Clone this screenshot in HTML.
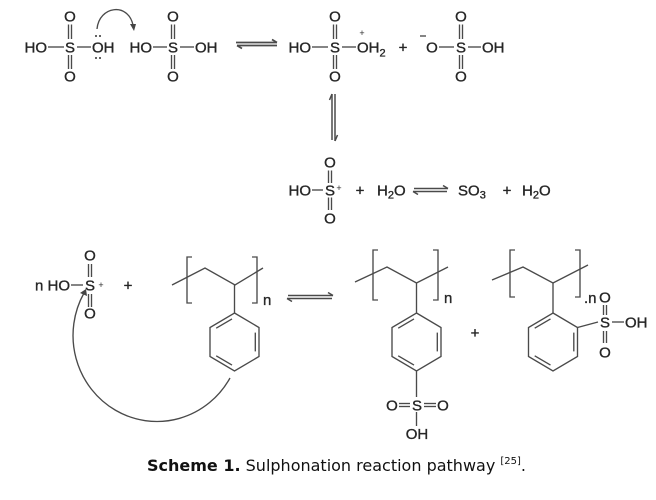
<!DOCTYPE html>
<html><head><meta charset="utf-8"><style>
html,body{margin:0;padding:0;background:#fff;}
svg{display:block;}
.t{font-family:"Liberation Sans",Arial,sans-serif;font-size:15px;fill:#262626;stroke:#262626;stroke-width:0.35;}
.s{font-family:"Liberation Sans",Arial,sans-serif;font-size:9px;fill:#2a2a2a;}
.b{font-family:"Liberation Sans",Arial,sans-serif;font-size:11px;fill:#262626;}
line,path,polyline{stroke:#4a4a4a;stroke-width:1.35;fill:none;}
.cap{font-family:"DejaVu Sans","Liberation Sans",sans-serif;font-size:16px;fill:#111;}
</style></head><body>
<svg width="656" height="500" viewBox="0 0 656 500" xmlns="http://www.w3.org/2000/svg">
<rect width="656" height="500" fill="#fff"/>

<!-- Molecule 1 -->
<text class="t" x="47" y="52.5" text-anchor="end">HO</text>
<line x1="48" y1="47" x2="64" y2="47"/>
<text class="t" x="70" y="52.5" text-anchor="middle">S</text>
<line x1="77" y1="47" x2="91" y2="47"/>
<text class="t" x="92" y="52.5">OH</text>
<text class="t" x="70" y="21.5" text-anchor="middle">O</text>
<text class="t" x="70" y="81.5" text-anchor="middle">O</text>
<line x1="68.5" y1="24.5" x2="68.5" y2="39"/><line x1="71.5" y1="24.5" x2="71.5" y2="39"/>
<line x1="68.5" y1="55" x2="68.5" y2="69"/><line x1="71.5" y1="55" x2="71.5" y2="69"/>
<circle cx="96" cy="36" r="1" fill="#333"/><circle cx="100" cy="36" r="1" fill="#333"/>
<circle cx="96" cy="58" r="1" fill="#333"/><circle cx="100" cy="58" r="1" fill="#333"/>
<path d="M97,29 C99,6 128,2 133,25"/>
<polygon points="130,24 136,24 134,31" fill="#444"/>

<!-- Molecule 2 -->
<text class="t" x="152" y="52.5" text-anchor="end">HO</text>
<line x1="153" y1="47" x2="167" y2="47"/>
<text class="t" x="173" y="52.5" text-anchor="middle">S</text>
<line x1="180" y1="47" x2="194" y2="47"/>
<text class="t" x="195" y="52.5">OH</text>
<text class="t" x="173" y="21.5" text-anchor="middle">O</text>
<text class="t" x="173" y="81.5" text-anchor="middle">O</text>
<line x1="171.5" y1="24.5" x2="171.5" y2="39"/><line x1="174.5" y1="24.5" x2="174.5" y2="39"/>
<line x1="171.5" y1="55" x2="171.5" y2="69"/><line x1="174.5" y1="55" x2="174.5" y2="69"/>

<!-- equilibrium top -->
<line x1="236" y1="42.5" x2="277" y2="42.5" style="stroke-width:1.7"/>
<line x1="272" y1="39.5" x2="277" y2="42.5" style="stroke-width:1.7"/>
<line x1="237" y1="45.5" x2="277" y2="45.5" style="stroke-width:1.7"/>
<line x1="237" y1="45.5" x2="242" y2="48.5" style="stroke-width:1.7"/>

<!-- Molecule 3 -->
<text class="t" x="311" y="52.5" text-anchor="end">HO</text>
<line x1="312" y1="47" x2="328" y2="47"/>
<text class="t" x="335" y="52.5" text-anchor="middle">S</text>
<line x1="342" y1="47" x2="356" y2="47"/>
<text class="t" x="357" y="52.5">OH<tspan class="b" dy="4">2</tspan></text>
<text class="s" x="362" y="36" text-anchor="middle">+</text>
<text class="t" x="335" y="21.5" text-anchor="middle">O</text>
<text class="t" x="335" y="81.5" text-anchor="middle">O</text>
<line x1="333.5" y1="24.5" x2="333.5" y2="39"/><line x1="336.5" y1="24.5" x2="336.5" y2="39"/>
<line x1="333.5" y1="55" x2="333.5" y2="69"/><line x1="336.5" y1="55" x2="336.5" y2="69"/>

<text class="t" x="403" y="52.5" text-anchor="middle">+</text>

<!-- Molecule 4 -->
<line x1="420" y1="36" x2="426" y2="36"/>
<text class="t" x="432" y="52.5" text-anchor="middle">O</text>
<line x1="439" y1="47" x2="454" y2="47"/>
<text class="t" x="461" y="52.5" text-anchor="middle">S</text>
<line x1="468" y1="47" x2="481" y2="47"/>
<text class="t" x="482" y="52.5">OH</text>
<text class="t" x="461" y="21.5" text-anchor="middle">O</text>
<text class="t" x="461" y="81.5" text-anchor="middle">O</text>
<line x1="459.5" y1="24.5" x2="459.5" y2="39"/><line x1="462.5" y1="24.5" x2="462.5" y2="39"/>
<line x1="459.5" y1="55" x2="459.5" y2="69"/><line x1="462.5" y1="55" x2="462.5" y2="69"/>

<!-- vertical equilibrium -->
<line x1="332" y1="94" x2="332" y2="140" style="stroke-width:1.5"/>
<line x1="332" y1="94" x2="329.5" y2="100" style="stroke-width:1.5"/>
<line x1="335" y1="94" x2="335" y2="141" style="stroke-width:1.5"/>
<line x1="335" y1="141" x2="337.5" y2="135" style="stroke-width:1.5"/>

<!-- Row 2 -->
<text class="t" x="311" y="195.5" text-anchor="end">HO</text>
<line x1="312" y1="190" x2="323" y2="190"/>
<text class="t" x="330" y="195.5" text-anchor="middle">S</text>
<text class="s" x="339" y="191" text-anchor="middle">+</text>
<text class="t" x="330" y="167.5" text-anchor="middle">O</text>
<text class="t" x="330" y="223.5" text-anchor="middle">O</text>
<line x1="328.5" y1="170.5" x2="328.5" y2="183"/><line x1="331.5" y1="170.5" x2="331.5" y2="183"/>
<line x1="328.5" y1="197.5" x2="328.5" y2="210"/><line x1="331.5" y1="197.5" x2="331.5" y2="210"/>
<text class="t" x="360" y="195.5" text-anchor="middle">+</text>
<text class="t" x="377" y="195.5">H<tspan class="b" dy="3">2</tspan><tspan dy="-3">O</tspan></text>
<line x1="414" y1="188.5" x2="448" y2="188.5" style="stroke-width:1.5"/>
<line x1="443" y1="185.5" x2="448" y2="188.5" style="stroke-width:1.5"/>
<line x1="413" y1="191.5" x2="447" y2="191.5" style="stroke-width:1.5"/>
<line x1="413" y1="191.5" x2="418" y2="194.5" style="stroke-width:1.5"/>
<text class="t" x="458" y="195.5">SO<tspan class="b" dy="3">3</tspan></text>
<text class="t" x="507" y="195.5" text-anchor="middle">+</text>
<text class="t" x="522" y="195.5">H<tspan class="b" dy="3">2</tspan><tspan dy="-3">O</tspan></text>

<!-- Bottom row: HSO3+ -->
<text class="t" x="70" y="290.5" text-anchor="end">n HO</text>
<line x1="71" y1="285" x2="83" y2="285"/>
<text class="t" x="90" y="290.5" text-anchor="middle">S</text>
<text class="s" x="101" y="288" text-anchor="middle">+</text>
<text class="t" x="90" y="260.5" text-anchor="middle">O</text>
<text class="t" x="90" y="318.5" text-anchor="middle">O</text>
<line x1="88.5" y1="264" x2="88.5" y2="277"/><line x1="91.5" y1="264" x2="91.5" y2="277"/>
<line x1="88.5" y1="294" x2="88.5" y2="307"/><line x1="91.5" y1="294" x2="91.5" y2="307"/>
<text class="t" x="128" y="290.5" text-anchor="middle">+</text>

<!-- curved arrow bottom -->
<path d="M230,378 A83,85 0 1 1 84,293"/>
<polygon points="86,289 80,293 87,296" fill="#444"/>

<!-- Polymer 1 -->
<polyline points="172,285 205,268 235,285 263,268"/>
<polyline points="192,257 187,257 187,303 192,303"/>
<polyline points="252,257 257,257 257,303 252,303"/>
<text class="t" x="263" y="305">n</text>
<line x1="234.5" y1="285" x2="234.5" y2="313"/>
<polygon points="234.5,313 259,327.5 259,356.5 234.5,371 210,356.5 210,327.5" fill="none" stroke="#4a4a4a" stroke-width="1.35"/>
<line x1="232" y1="318.9" x2="216.2" y2="328.2"/>
<line x1="255.3" y1="332.6" x2="255.3" y2="351.4"/>
<line x1="232" y1="365.1" x2="216.2" y2="355.8"/>

<!-- equilibrium bottom -->
<line x1="288" y1="295.5" x2="333" y2="295.5" style="stroke-width:1.5"/>
<line x1="328" y1="292.5" x2="333" y2="295.5" style="stroke-width:1.5"/>
<line x1="287" y1="298.5" x2="332" y2="298.5" style="stroke-width:1.5"/>
<line x1="287" y1="298.5" x2="292" y2="301.5" style="stroke-width:1.5"/>

<!-- Polymer 2 (para) -->
<polyline points="355,282 387,267 416.5,283 448,267"/>
<polyline points="378,250 373,250 373,300 378,300"/>
<polyline points="433,250 438,250 438,300 433,300"/>
<text class="t" x="444" y="303">n</text>
<line x1="416.5" y1="283" x2="416.5" y2="313"/>
<polygon points="416.5,313 441,327.5 441,356.5 416.5,371 392,356.5 392,327.5" fill="none" stroke="#4a4a4a" stroke-width="1.35"/>
<line x1="414" y1="318.9" x2="398.2" y2="328.2"/>
<line x1="437.3" y1="332.6" x2="437.3" y2="351.4"/>
<line x1="414" y1="365.1" x2="398.2" y2="355.8"/>
<line x1="416.5" y1="371" x2="416.5" y2="397"/>
<text class="t" x="417" y="410.5" text-anchor="middle">S</text>
<text class="t" x="392" y="410.5" text-anchor="middle">O</text>
<text class="t" x="443" y="410.5" text-anchor="middle">O</text>
<line x1="399" y1="403.5" x2="410" y2="403.5"/><line x1="399" y1="406.5" x2="410" y2="406.5"/>
<line x1="424" y1="403.5" x2="436" y2="403.5"/><line x1="424" y1="406.5" x2="436" y2="406.5"/>
<line x1="416.5" y1="412" x2="416.5" y2="426"/>
<text class="t" x="417" y="439" text-anchor="middle">OH</text>

<text class="t" x="475" y="338" text-anchor="middle">+</text>

<!-- Polymer 3 (ortho) -->
<polyline points="492,280 523,267 553,283 588,265"/>
<polyline points="515,250 510,250 510,297 515,297"/>
<polyline points="575,250 580,250 580,297 575,297"/>
<text class="t" x="584" y="303">.n</text>
<line x1="553" y1="283" x2="553" y2="313"/>
<polygon points="553,313 577.5,327.5 577.5,356.5 553,371 528.5,356.5 528.5,327.5" fill="none" stroke="#4a4a4a" stroke-width="1.35"/>
<line x1="550.5" y1="318.9" x2="534.7" y2="328.2"/>
<line x1="573.8" y1="332.6" x2="573.8" y2="351.4"/>
<line x1="550.5" y1="365.1" x2="534.7" y2="355.8"/>
<line x1="577.5" y1="327.5" x2="598" y2="322"/>
<text class="t" x="605" y="327.5" text-anchor="middle">S</text>
<text class="t" x="605" y="302.5" text-anchor="middle">O</text>
<text class="t" x="605" y="357.5" text-anchor="middle">O</text>
<line x1="603.5" y1="305" x2="603.5" y2="315"/><line x1="606.5" y1="305" x2="606.5" y2="315"/>
<line x1="603.5" y1="331" x2="603.5" y2="343"/><line x1="606.5" y1="331" x2="606.5" y2="343"/>
<line x1="612" y1="322" x2="624" y2="322"/>
<text class="t" x="625" y="327.5">OH</text>

<!-- Caption -->
<text class="cap" x="147" y="471"><tspan font-weight="bold">Scheme 1.</tspan> Sulphonation reaction pathway <tspan font-size="10" dy="-7">[25]</tspan><tspan dy="7">.</tspan></text>
</svg>
</body></html>
